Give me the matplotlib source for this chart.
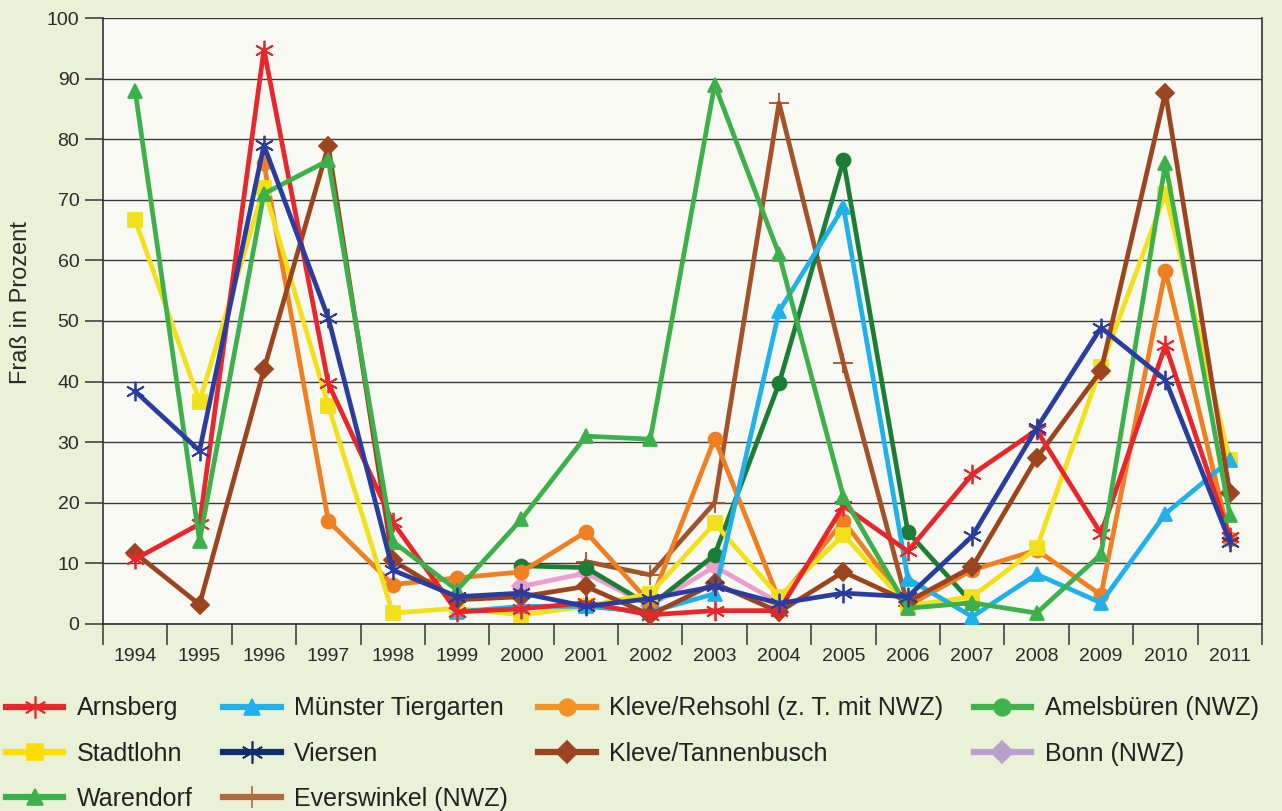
import numpy as np
import matplotlib
matplotlib.use("Agg")
import matplotlib.pyplot as plt

plt.rcParams["font.family"] = ["Liberation Sans", "DejaVu Sans"]

nan = np.nan
years = [str(y) for y in range(1994, 2012)]

arnsberg = [10.7, 16.5, 94.8, 39.7, 16.8, 2.0, 2.5, 3.5, 1.5, 2.2, 2.2, 19.5, 12.0, 24.7, 32.0, 14.9, 46.0, 14.3]
stadtlohn = [66.7, 36.7, 72.0, 36.0, 1.8, 2.6, 1.5, 2.9, 5.0, 16.6, 4.5, 14.7, 3.0, 4.5, 12.5, 42.4, 71.0, 27.0]
warendorf = [88.0, 13.7, 71.0, 76.5, 13.6, 5.6, 17.3, 31.0, 30.5, 89.0, 61.0, 21.0, 2.6, 3.5, 1.8, 11.5, 76.0, 18.0]
muenster = [nan, nan, nan, nan, nan, 2.0, 2.9, 2.9, 2.0, 5.0, 51.6, 68.8, 7.5, 1.2, 8.2, 3.5, 18.2, 27.0]
viersen = [38.4, 28.6, 79.0, 50.5, 8.9, 4.5, 5.1, 2.9, 4.2, 6.2, 3.4, 5.1, 4.5, 14.5, 32.3, 48.9, 40.3, 13.6]
everswinkel = [nan, nan, nan, nan, nan, nan, nan, 10.3, 8.1, 20.0, 86.0, 43.0, 3.0, nan, nan, nan, nan, nan]
rehsohl = [nan, nan, 76.0, 17.0, 6.5, 7.6, 8.6, 15.2, 3.4, 30.6, 4.0, 17.0, 3.0, 8.9, 12.2, 4.8, 58.3, 14.0]
tannenbusch = [11.7, 3.2, 42.0, 78.9, 10.5, 4.0, 4.5, 6.2, 1.5, 6.7, 2.0, 8.6, 3.7, 9.4, 27.4, 41.8, 87.7, 21.6]
amelsbueren = [nan, nan, nan, nan, nan, nan, 9.6, 9.3, 3.0, 11.4, 39.7, 76.5, 15.2, 3.4, nan, nan, nan, nan]
bonn = [nan, nan, nan, nan, nan, nan, 6.2, 8.4, 3.0, 9.5, 3.5, nan, nan, nan, nan, nan, nan, nan]

# label, values, line colour, marker
series = [
    ("Arnsberg", arnsberg, "#e8262b", (6, 2, 0)),
    ("Stadtlohn", stadtlohn, "#f2e11a", "s"),
    ("Warendorf", warendorf, "#3cb04a", "^"),
    ("Münster Tiergarten", muenster, "#1fb2ea", "^"),
    ("Viersen", viersen, "#2a3c9e", (6, 2, 0)),
    ("Everswinkel (NWZ)", everswinkel, "#a4522a", "+"),
    ("Kleve/Rehsohl (z. T. mit NWZ)", rehsohl, "#f07f22", "o"),
    ("Kleve/Tannenbusch", tannenbusch, "#9c4420", "D"),
    ("Amelsbüren (NWZ)", amelsbueren, "#1c7d35", "o"),
    ("Bonn (NWZ)", bonn, "#ec9fcf", "D"),
]
legend_colors = {
    "Viersen": "#0d2d6b",
    "Amelsbüren (NWZ)": "#3db54a",
    "Bonn (NWZ)": "#b8a0cc",
    "Stadtlohn": "#ffdd00",
    "Kleve/Rehsohl (z. T. mit NWZ)": "#f39324",
    "Everswinkel (NWZ)": "#b06a40",
}
draw_order = [9, 5, 8, 6, 1, 3, 7, 0, 2, 4]

fig = plt.figure(figsize=(12.82, 8.11), dpi=100, facecolor="#e9f1d6")
ax = fig.add_axes([0.0803, 0.2306, 0.9041, 0.7472])
ax.set_facecolor("#f8f9f2")

x = np.arange(len(years))
for z, i in enumerate(draw_order):
    name, vals, col, mk = series[i]
    ms = 10 if mk not in ("D", "+", (6, 2, 0)) else (9 if mk == "D" else 14)
    ax.plot(x, vals, color=col, lw=3.4, marker=mk, markersize=ms,
            markeredgecolor=col, markerfacecolor=col, markeredgewidth=1.3,
            zorder=3 + z)

ax.set_xlim(-0.5, len(years) - 0.5)
ax.set_ylim(0, 100)
ax.set_yticks(np.arange(0, 101, 10))
ax.yaxis.grid(True, color="#3a3a3a", lw=1.0)
ax.set_axisbelow(True)
ax.set_xticks(np.arange(-0.5, len(years), 1.0))
ax.set_xticklabels([])
ax.set_xticks(x, minor=True)
ax.set_xticklabels(years, minor=True)
ax.tick_params(axis="x", which="major", length=15, width=1.2, color="#444444", direction="out")
ax.tick_params(axis="x", which="minor", length=0, labelsize=14, pad=17, labelcolor="#2a2a2a")
ax.tick_params(axis="y", length=13, width=1.2, color="#444444", labelsize=14,
               labelcolor="#2a2a2a", pad=4)
ax.spines["top"].set_visible(False)
for s in ("left", "right", "bottom"):
    ax.spines[s].set_color("#333333")
    ax.spines[s].set_linewidth(1.2)
ax.set_ylabel("Fraß in Prozent", fontsize=17, color="#2a2a2a")
ax.yaxis.set_label_coords(-0.061, 0.531)

# legend built from proxy artists in reference order
handles = []
for name, vals, col, mk in series:
    c = legend_colors.get(name, col)
    ms = 12 if mk not in ("+", (6, 2, 0)) else 16
    if mk == "D":
        ms = 11
    h, = ax.plot([], [], color=c, lw=4.5, marker=mk, markersize=ms,
                 markeredgecolor=c, markerfacecolor=c, markeredgewidth=1.2)
    handles.append(h)
fig.legend(handles, [s[0] for s in series], ncol=4, loc="upper left",
           bbox_to_anchor=(-0.011, 0.166), frameon=False, fontsize=18,
           handlelength=2.3, handletextpad=0.55, columnspacing=1.2,
           labelspacing=0.85, borderpad=0.3, labelcolor="#222222")

fig.savefig("out.png", dpi=100, facecolor=fig.get_facecolor())
